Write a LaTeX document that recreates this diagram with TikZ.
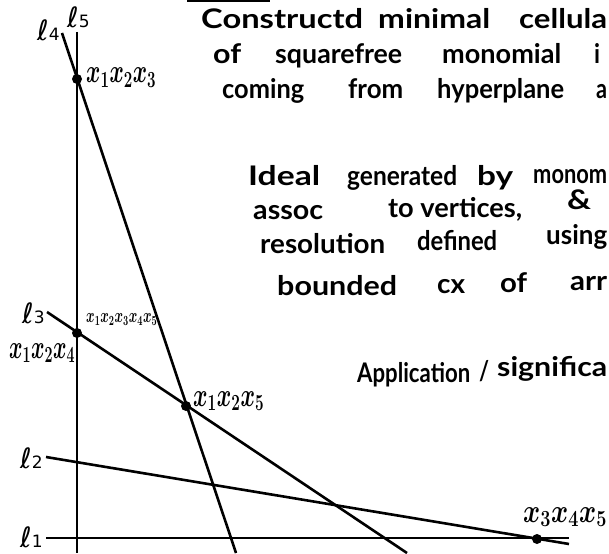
\documentclass[tikz,border=0pt]{standalone}
\usepackage{fontspec}
\usepackage{amsmath,bm}
\setmainfont{Lato}
\newfontfamily\lfont{DejaVu Sans}
\newcommand\hw[2]{\resizebox{#1pt}{\height}{#2}}
\newcommand\hwl[3]{\resizebox{#1pt}{#2\height}{#3}}
\tikzset{
  word/.style={inner sep=0pt, anchor=base west, font=\fontsize{27}{27}\selectfont\bfseries},
  lab/.style={inner sep=0pt, anchor=base west, font=\fontsize{22}{22}\selectfont},
  smalllab/.style={inner sep=0pt, anchor=base west, font=\fontsize{14}{14}\selectfont},
  lname/.style={inner sep=0pt, anchor=base west},
  hline/.style={line width=2.6pt},
  vdot/.style={circle, fill=black, inner sep=0pt, minimum size=10pt},
}
\begin{document}
\begin{tikzpicture}[x=1pt,y=-1pt]
\useasboundingbox (0,0) rectangle (609,553);
\fill[white] (0,0) rectangle (609,553);
% top underline
\coordinate (u1) at (187,0.8);
\coordinate (u2) at (270,0.8);
\draw[line width=2pt] (u1) -- (u2);
% line endpoints
\coordinate (l1a) at (46,538);  \coordinate (l1b) at (569,538);
\coordinate (l2a) at (46,457);  \coordinate (l2b) at (569,544);
\coordinate (l3a) at (47,312);  \coordinate (l3b) at (407,553);
\coordinate (l4a) at (62,33);   \coordinate (l4b) at (236,553);
\coordinate (l5a) at (77,32);   \coordinate (l5b) at (77,553);
\draw[hline] (l1a) -- (l1b);
\draw[hline] (l2a) -- (l2b);
\draw[hline] (l3a) -- (l3b);
\draw[hline] (l4a) -- (l4b);
\draw[hline] (l5a) -- (l5b);
% vertices
\node[vdot] (v123) at (77,79) {};
\node[vdot] (v124) at (77,333) {};
\node[vdot] (v125) at (186,406) {};
\node[vdot] (v345) at (537,539) {};
% line names
\node[lname] (n1) at (20,547) {\lfont\fontsize{28}{28}\selectfont ℓ\fontsize{17}{17}\selectfont 1};
\node[lname] (n2) at (20,468) {\lfont\fontsize{28}{28}\selectfont ℓ\fontsize{17}{17}\selectfont 2};
\node[lname] (n3) at (22,323) {\lfont\fontsize{28}{28}\selectfont ℓ\fontsize{17}{17}\selectfont 3};
\node[lname] (n4) at (37,41) {\lfont\fontsize{28}{28}\selectfont ℓ\fontsize{17}{17}\selectfont 4};
\node[lname] (n5) at (67,28) {\lfont\fontsize{28}{28}\selectfont ℓ\fontsize{17}{17}\selectfont 5};
% vertex labels
\node[lab] (t123) at (86,83) {\hwl{70}{1.6}{$\bm{x_1x_2x_3}$}};
\node[lab] (t124) at (9,358) {\hwl{66}{1.6}{$\bm{x_1x_2x_4}$}};
\node[lab] (t125) at (193,406) {\hwl{71}{1.6}{$\bm{x_1x_2x_5}$}};
\node[lab] (t345) at (523,522) {\hwl{84}{1.6}{$\bm{x_3x_4x_5}$}};
\node[smalllab] (tall) at (86,322) {\hwl{71}{1.4}{$\bm{x_1x_2x_3x_4x_5}$}};
% handwritten text
\node[word] (w11) at (201,29) {\hw{162}{Constructd}};
\node[word] (w12) at (378,29) {\hw{112}{minimal}};
\node[word] (w13) at (519,29) {\hw{88}{cellula}};
\node[word] (w21) at (213,64) {\hw{28}{of}};
\node[word] (w22) at (275,64) {\hw{127}{squarefree}};
\node[word] (w23) at (442,64) {\hw{119}{monomial}};
\node[word] (w24) at (594,64) {\hw{6}{i}};
\node[word] (w31) at (222,99) {\hw{82}{coming}};
\node[word] (w32) at (348,99) {\hw{55}{from}};
\node[word] (w33) at (437,99) {\hw{127}{hyperplane}};
\node[word] (w34) at (596,99) {\hw{11}{a}};
\node[word] (w41) at (248,186) {\hw{72}{Ideal}};
\node[word] (w42) at (347,186) {\hw{110}{generated}};
\node[word] (w43) at (477,186) {\hw{36}{by}};
\node[word] (w44) at (533,184) {\hw{74}{monom}};
\node[word] (w51) at (253,219) {\hw{70}{assoc}};
\node[word] (w52) at (388,217) {\hw{134}{to vertices,}};
\node[word] (w53) at (567,209) {\hw{24}{\&}};
\node[word] (w61) at (260,253) {\hw{125}{resolution}};
\node[word] (w62) at (417,250) {\hw{80}{defined}};
\node[word] (w63) at (546,244) {\hw{61}{using}};
\node[word] (w71) at (277,295) {\hw{120}{bounded}};
\node[word] (w72) at (437,293) {\hw{28}{cx}};
\node[word] (w73) at (500,292) {\hw{27}{of}};
\node[word] (w74) at (570,290) {\hw{37}{arr}};
\node[word] (w81) at (357,382) {\hw{113}{Application}};
\node[word] (w82) at (479,380) {\hw{10}{/}};
\node[word] (w83) at (497,376) {\hw{110}{significa}};
\end{tikzpicture}
\end{document}
